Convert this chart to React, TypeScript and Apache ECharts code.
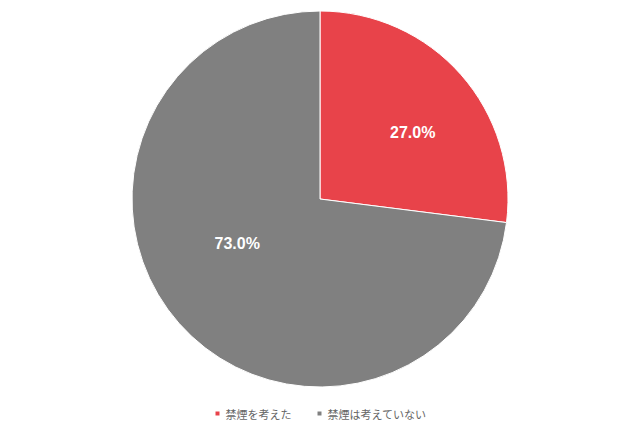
import React, { useEffect, useRef } from "react";
import * as echarts from "echarts";

const categories = ["禁煙を考えた", "禁煙は考えていない"];
const values = [27.0, 73.0];
const colors = ["#E8434A", "#808080"];
const labelShift = [
  { dx: 20, dy: -2 },
  { dx: -10, dy: -20 },
];

export default function App() {
  const ref = useRef<HTMLDivElement>(null);
  useEffect(() => {
    document.body.style.margin = "0";
    const chart = echarts.init(ref.current!, undefined, { renderer: "svg" });
    chart.setOption({
      animation: false,
      backgroundColor: "#ffffff",
      legend: {
        top: 403,
        left: "center",
        itemWidth: 6,
        itemHeight: 6,
        itemGap: 24,
        icon: "rect",
        textStyle: { color: "#666666", fontSize: 11, fontFamily: "Noto Sans CJK JP" },
        data: categories,
      },
      series: [
        {
          type: "pie",
          center: [320, 199],
          radius: [0, 188],
          startAngle: 90,
          clockwise: true,
          itemStyle: { borderColor: "#ffffff", borderWidth: 1 },
          label: {
            show: true,
            position: "inside",
            color: "#ffffff",
            fontSize: 16,
            fontWeight: "bold",
            fontFamily: "Liberation Sans",
            formatter: (p: any) => p.value.toFixed(1) + "%",
          },
          labelLayout: (p: any) => labelShift[p.dataIndex],
          labelLine: { show: false },
          data: categories.map((c, i) => ({
            name: c,
            value: values[i],
            itemStyle: { color: colors[i] },
          })),
        },
      ],
    });
    return () => chart.dispose();
  }, []);
  return <div ref={ref} style={{ width: 640, height: 426 }} />;
}
